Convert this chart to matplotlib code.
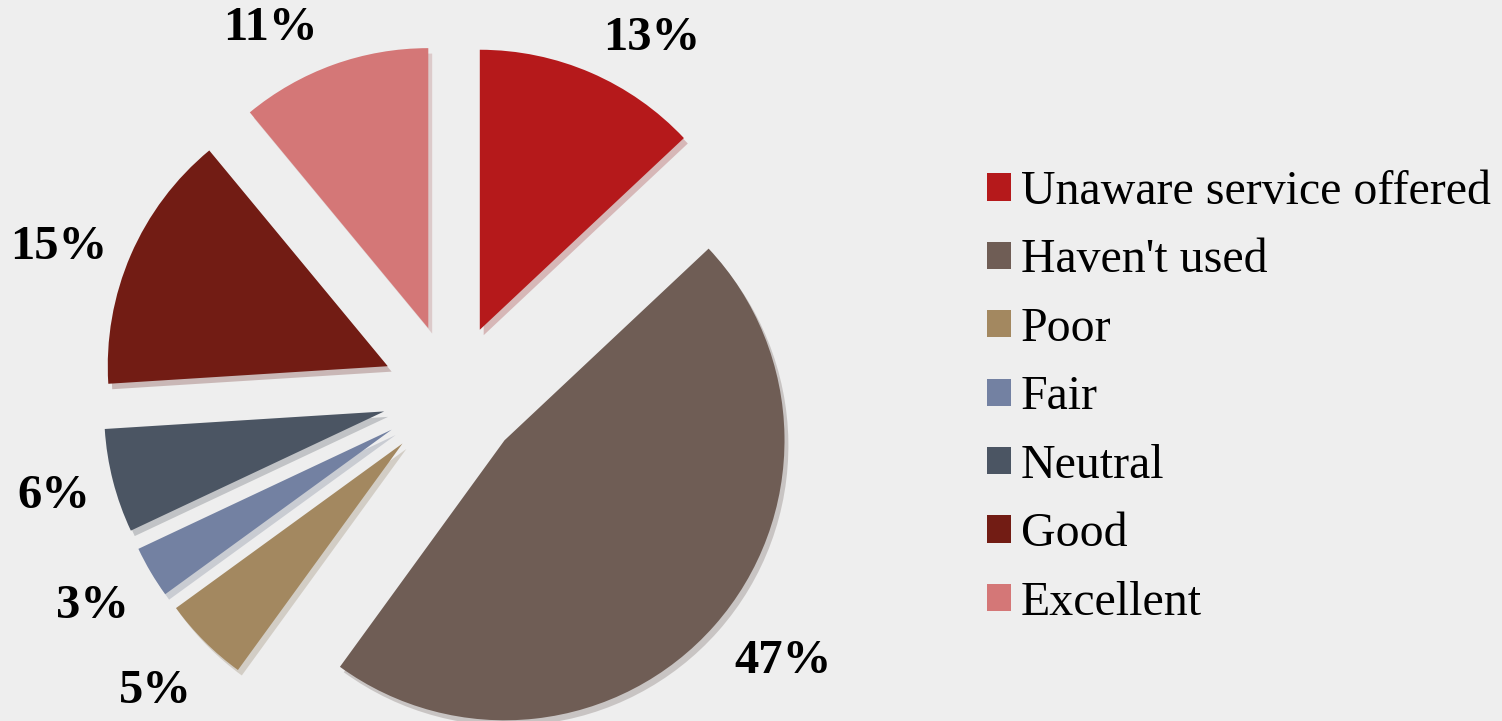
import matplotlib
matplotlib.use("Agg")
import matplotlib.pyplot as plt
import numpy as np

categories = ["Unaware service offered", "Haven't used", "Poor", "Fair", "Neutral", "Good", "Excellent"]
shares = [13, 47, 5, 3, 6, 15, 11]
colors = ["#b5191b", "#6f5d55", "#a38860", "#7381a2", "#4b5563", "#721c14", "#d47777"]

# label placement tweaks (distance from wedge centre, angle nudge in degrees)
label_dist = [1.21, 1.27, 1.25, 1.24, 1.22, 1.25, 1.21]
label_nudge = [-7, 3, 0, 0, 0, 3.5, 8]

plt.rcParams['font.family'] = ['Liberation Serif', 'DejaVu Serif']

fig = plt.figure(figsize=(15.02, 7.21), dpi=100, facecolor="#eeeeee")
ax = fig.add_axes([0, 0, 1, 1])
ax.set_facecolor("#eeeeee")

wedges, texts, pcts = ax.pie(
    shares, colors=colors, startangle=90, counterclock=False,
    explode=[0.25] * len(shares), radius=1.0,
    autopct="%.0f%%", pctdistance=1.24,
    shadow={"ox": 0.01, "oy": -0.014, "shade": 0.2, "alpha": 0.25},
    wedgeprops={"linewidth": 0},
    textprops={"fontsize": 35, "fontweight": "bold", "color": "black"},
)

for w, t, d, n in zip(wedges, pcts, label_dist, label_nudge):
    mid = np.deg2rad((w.theta1 + w.theta2) / 2 + n)
    cx, cy = w.center
    t.set_position((cx + d * w.r * np.cos(mid), cy + d * w.r * np.sin(mid)))

# one data unit = 280 px, pie centre at (452, 327) px from bottom-left
px = 280.0
ax.set_xlim(-452 / px, (1502 - 452) / px)
ax.set_ylim(-327 / px, (721 - 327) / px)
ax.set_aspect("equal")
ax.axis("off")

leg = ax.legend(
    wedges, categories, loc="center left",
    bbox_to_anchor=(987 / 1502, 0.449), bbox_transform=fig.transFigure,
    frameon=False, fontsize=34.5, borderpad=0, borderaxespad=0,
    handlelength=0.5, handleheight=0.5, handletextpad=0.2,
    labelspacing=0.51,
)

fig.savefig("out.png", dpi=100, facecolor=fig.get_facecolor())
